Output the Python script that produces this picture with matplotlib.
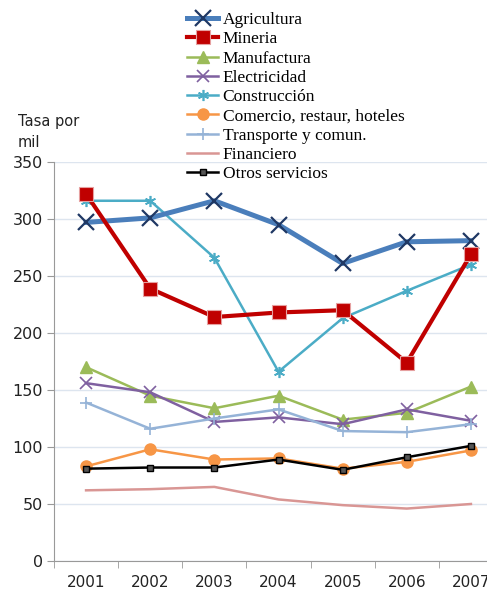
import matplotlib

matplotlib.use("Agg")
from matplotlib import pyplot as plt
import numpy as np

years = ['2001', '2002', '2003', '2004', '2005', '2006', '2007']

agricultura = [297, 301, 316, 295, 261, 280, 281]
mineria = [322, 239, 214, 218, 220, 174, 269]
manufactura = [170, 145, 134, 145, 124, 130, 153]
electricidad = [156, 148, 122, 126, 120, 133, 123]
construccion = [316, 316, 266, 166, 213, 237, 260]
comercio = [83, 98, 89, 90, 81, 87, 97]
transporte = [139, 116, 125, 133, 114, 113, 120]
financiero = [62, 63, 65, 54, 49, 46, 50]
otros = [81, 82, 82, 89, 80, 91, 101]

fig = plt.figure(figsize=(4.87, 5.90), dpi=100)
ax = fig.add_axes([54 / 487, 29 / 590, 449 / 487, 399 / 590])

x = np.arange(len(years))

ax.plot(x, agricultura, color='#4a7ebb', lw=3.6, marker='x', ms=12, mew=1.6,
        mec='#1f3864', label='Agricultura', zorder=5)
ax.plot(x, mineria, color='#c00000', lw=3.0, marker='s', ms=10, mew=0.8,
        mec='#e6a0a0', label='Mineria', zorder=5)
ax.plot(x, manufactura, color='#9bbb59', lw=1.8, marker='^', ms=8,
        label='Manufactura', zorder=4)
ax.plot(x, electricidad, color='#7f60a0', lw=1.8, marker='x', ms=8, mew=1.2,
        label='Electricidad', zorder=4)
ax.plot(x, construccion, color='#4bacc6', lw=1.8, marker=(6, 2, 0), ms=8,
        mew=1.2, label='Construcción', zorder=4)
ax.plot(x, comercio, color='#f79646', lw=1.8, marker='o', ms=8,
        label='Comercio, restaur, hoteles', zorder=4)
ax.plot(x, transporte, color='#95b3d7', lw=1.8, marker='+', ms=9, mew=1.2,
        label='Transporte y comun.', zorder=4)
ax.plot(x, financiero, color='#d99694', lw=1.8, label='Financiero', zorder=4)
ax.plot(x, otros, color='#000000', lw=1.8, marker='s', ms=4, mfc='#555555',
        mec='#000000', label='Otros servicios', zorder=4)

ax.set_xlim(-0.5, 6.5)
ax.set_ylim(0, 350)
ax.set_yticks(np.arange(0, 351, 50))
ax.set_xticks(x)
ax.set_xticklabels(years)
ax.set_xticks(np.arange(-0.5, 6.6, 1), minor=True)
ax.tick_params(axis='x', which='major', length=0, pad=10, labelsize=11,
               colors='#222222')
ax.tick_params(axis='x', which='minor', length=5, color='#999999')
ax.tick_params(axis='y', length=5, color='#999999', labelsize=11.5,
               colors='#222222', pad=3)
ax.tick_params(axis='y', color='#999999')

ax.grid(axis='y', color='#dde5ef', lw=1)
ax.set_axisbelow(True)
for s in ['top', 'right']:
    ax.spines[s].set_visible(False)
for s in ['left', 'bottom']:
    ax.spines[s].set_color('#999999')

fig.text(18 / 487, 1 - 132 / 590, 'Tasa por\nmil', fontsize=10.5,
         color='#222222', ha='left', va='center', linespacing=1.5)

leg = ax.legend(loc='upper left', bbox_to_anchor=(133 / 449, 549 / 399),
                frameon=False, prop={'family': 'Liberation Serif', 'size': 12.5},
                labelspacing=0.18, handlelength=1.8, handletextpad=0.25,
                borderaxespad=0, borderpad=0)

fig.savefig('out.png', dpi=100)
